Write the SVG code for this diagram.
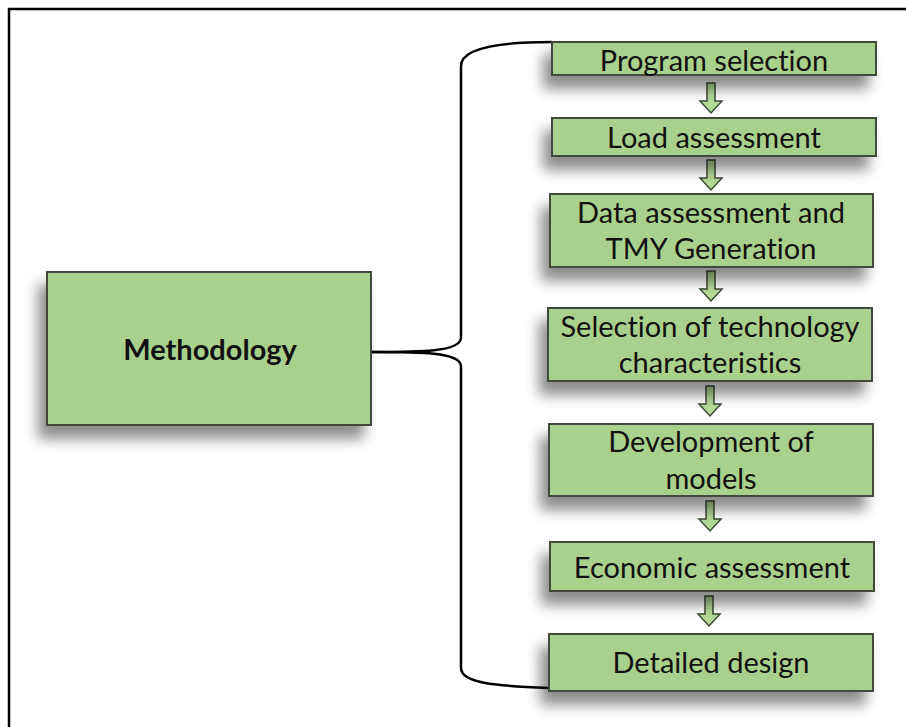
<svg xmlns="http://www.w3.org/2000/svg" width="906" height="727" viewBox="0 0 906 727">
<defs>
<filter id="sh" x="-15%" y="-80%" width="130%" height="300%">
<feGaussianBlur in="SourceAlpha" stdDeviation="7"/>
<feOffset dx="-8" dy="13" result="b"/>
<feComponentTransfer><feFuncA type="linear" slope="0.45"/></feComponentTransfer>
<feMerge><feMergeNode/><feMergeNode in="SourceGraphic"/></feMerge>
</filter>
<g id="arr"><path d="M-4,0 H4 V18 H11 L0,30 L-11,18 H-4 Z"/></g>
</defs>
<style>
.box{fill:#a9d18e;stroke:#404a3a;stroke-width:2}
.t{font-family:Lato,"Open Sans",sans-serif;font-size:29px;fill:#111;text-anchor:middle;font-variant-ligatures:none}
.b{font-weight:bold}
.ar{fill:#b3da98;stroke:#3c4a36;stroke-width:1.5}
.br{fill:none;stroke:#000;stroke-width:2.5}
</style>
<path d="M9,727 V9 H906" fill="none" stroke="#000" stroke-width="2.5"/>
<g id="connectors">
<path class="br" d="M371,352 C420,352 460,352 461,338 V66 C461,48 500,42 552,42"/>
<path class="br" d="M371,352 C420,352 460,352 461,366 V668 C461,684 500,686 549,688"/>
<use href="#arr" class="ar" x="711" y="83"/>
<use href="#arr" class="ar" x="711" y="160"/>
<use href="#arr" class="ar" x="711" y="271"/>
<use href="#arr" class="ar" x="710" y="386"/>
<use href="#arr" class="ar" x="710" y="501"/>
<use href="#arr" class="ar" x="709" y="596"/>
</g>
<g id="methodology"><rect class="box" x="47" y="272" width="324" height="153" filter="url(#sh)"/><text class="t b" x="210" y="360">Methodology</text></g>
<g id="program"><rect class="box" x="552" y="42" width="324" height="33" filter="url(#sh)"/><text class="t" x="714" y="71">Program selection</text></g>
<g id="load"><rect class="box" x="552" y="118" width="324" height="38" filter="url(#sh)"/><text class="t" x="714" y="148">Load assessment</text></g>
<g id="data"><rect class="box" x="550" y="194" width="323" height="73" filter="url(#sh)"/><text class="t" x="711" y="223">Data assessment and</text><text class="t" x="711" y="259">TMY Generation</text></g>
<g id="selection"><rect class="box" x="548" y="308" width="324" height="73" filter="url(#sh)"/><text class="t" x="710" y="337">Selection of technology</text><text class="t" x="710" y="373">characteristics</text></g>
<g id="development"><rect class="box" x="549" y="424" width="324" height="72" filter="url(#sh)"/><text class="t" x="711" y="452">Development of</text><text class="t" x="711" y="489">models</text></g>
<g id="economic"><rect class="box" x="550" y="542" width="324" height="49" filter="url(#sh)"/><text class="t" x="712" y="578">Economic assessment</text></g>
<g id="detailed"><rect class="box" x="549" y="634" width="324" height="57" filter="url(#sh)"/><text class="t" x="711" y="673">Detailed design</text></g>
</svg>
